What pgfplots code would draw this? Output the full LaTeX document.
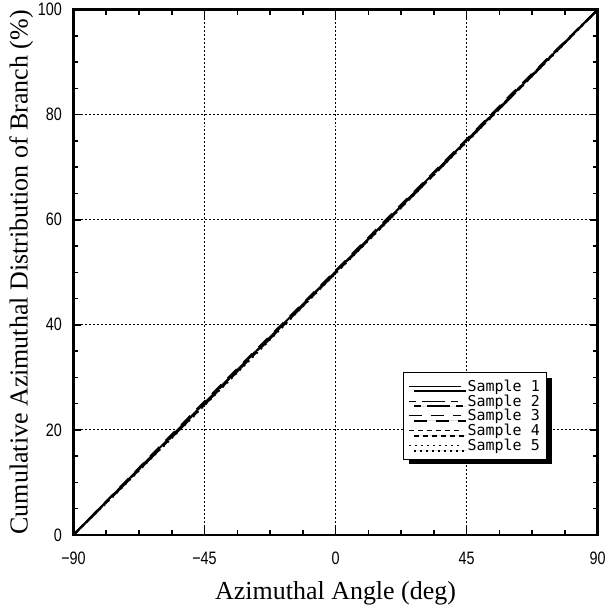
\documentclass[border=0pt]{standalone}
\usepackage{pgfplots}
\pgfplotsset{compat=1.18}
\usepackage{fontspec}
\setmainfont{Liberation Serif}
\newfontfamily\tickfont[FakeStretch=0.8]{Liberation Sans}
\newfontfamily\legfont{DejaVu Sans Mono}
\usetikzlibrary{shadows}
\begin{document}
\begin{tikzpicture}
\begin{axis}[
  width=525pt, height=526pt, scale only axis,
  xmin=-90, xmax=90, ymin=0, ymax=100,
  xtick={-90,-45,0,45,90},
  xticklabels={−90,−45,0,45,90},
  ytick={0,20,40,60,80,100},
  yticklabels={0,20,40,60,80,100},
  minor x tick num=3, minor y tick num=3,
  tick align=inside,
  major tick length=8pt, minor tick length=5pt,
  every tick/.style={black, line width=1.5pt},
  axis line style={line width=2.5pt},
  grid=major,
  major grid style={black, line width=1pt, dash pattern=on 2pt off 2pt},
  ticklabel style={font=\tickfont\fontsize{18}{18}\selectfont},
  xticklabel style={yshift=-14pt},
  yticklabel style={xshift=-8pt},
  xlabel={Azimuthal Angle (deg)},
  ylabel={Cumulative Azimuthal Distribution of Branch (\%)},
  label style={font=\fontsize{26}{26}\selectfont},
  xlabel style={yshift=-10pt},
  ylabel style={yshift=-2pt},
  legend style={at={(rel axis cs:0.629,0.31)}, anchor=north west,
    draw=black, line width=1.1pt, fill=white,
    font=\legfont\fontsize{15}{13}\selectfont,
    drop shadow={shadow xshift=5pt, shadow yshift=-5pt, fill=black, opacity=1},
    row sep=-2pt, inner sep=5pt},
  legend cell align=left,
  legend image code/.code={\draw[#1, line width=1pt] (0pt,0pt) -- (52pt,0pt);},
]
\addplot[black, line width=2pt, solid] coordinates {
(-90,0) (-75,8.4) (-60,16.8) (-45,25.1) (-30,33.5) (-15,41.8) (0,50.1) (15,58.4) (30,66.8) (45,75.1) (60,83.4) (75,91.7) (90,100)};
\addlegendentry{\hspace{4pt}Sample 1}
\addplot[black, line width=2pt, dash pattern=on 7pt off 6pt on 23pt off 6pt] coordinates {
(-90,0) (-75,8.2) (-60,16.5) (-45,24.8) (-30,33.2) (-15,41.5) (0,49.9) (15,58.2) (30,66.5) (45,74.9) (60,83.2) (75,91.6) (90,100)};
\addlegendentry{\hspace{4pt}Sample 2}
\addplot[black, line width=2pt, dash pattern=on 13pt off 9pt] coordinates {
(-90,0) (-75,8.5) (-60,17.0) (-45,25.4) (-30,33.7) (-15,42.0) (0,50.3) (15,58.7) (30,67.0) (45,75.3) (60,83.7) (75,91.9) (90,100)};
\addlegendentry{\hspace{4pt}Sample 3}
\addplot[black, line width=2pt, dash pattern=on 5pt off 4pt] coordinates {
(-90,0) (-75,8.3) (-60,16.6) (-45,25.0) (-30,33.4) (-15,41.7) (0,50.0) (15,58.4) (30,66.7) (45,75.1) (60,83.5) (75,91.8) (90,100)};
\addlegendentry{\hspace{4pt}Sample 4}
\addplot[black, line width=2pt, dash pattern=on 2pt off 4pt] coordinates {
(-90,0) (-75,8.1) (-60,16.4) (-45,24.7) (-30,33.0) (-15,41.4) (0,49.8) (15,58.1) (30,66.5) (45,74.8) (60,83.2) (75,91.5) (90,100)};
\addlegendentry{\hspace{4pt}Sample 5}
\end{axis}
\path (current bounding box.west) ++(-6pt,0pt);
\end{tikzpicture}
\end{document}
